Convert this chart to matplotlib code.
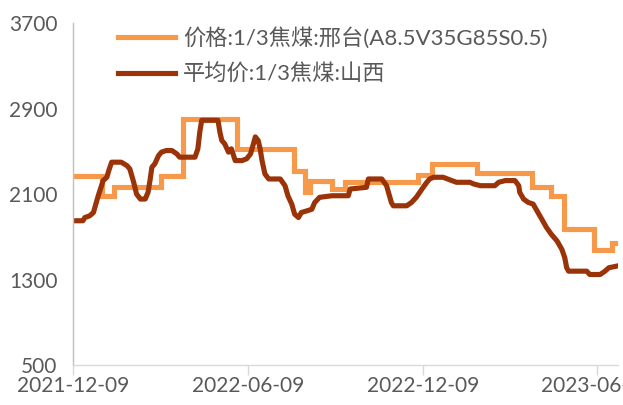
import matplotlib
matplotlib.use("Agg")
import matplotlib.pyplot as plt
import matplotlib.dates as mdates
import numpy as np

plt.rcParams['font.family'] = ['Lato', 'Noto Sans CJK SC', 'DejaVu Sans']

start = np.datetime64('2021-12-09')

# 价格:1/3焦煤:邢台 (step series), days after 2021-12-09
orange_days = [0, 30, 42, 92, 115, 171, 230, 242, 247, 270, 284, 360, 374,
               421, 479, 499, 512, 544, 562, 568]
orange_vals = [2270, 2085, 2165, 2270, 2805, 2525, 2320, 2115, 2225, 2150,
               2210, 2275, 2380, 2295, 2165, 2085, 1770, 1580, 1645, 1645]

# 平均价:1/3焦煤:山西
dark_days = [0, 10, 12, 17, 21, 23, 26, 30, 31, 35, 37, 40, 50, 56, 59, 63,
             66, 70, 75, 78, 80, 82, 85, 89, 92, 97, 103, 108, 111, 127, 130,
             132, 134, 151, 153, 155, 158, 162, 165, 169, 176, 181, 185, 188,
             190, 193, 195, 197, 200, 204, 216, 221, 224, 228, 231, 235, 238,
             244, 249, 252, 257, 270, 287, 289, 306, 308, 322, 327, 332, 334,
             348, 353, 358, 364, 369, 372, 376, 386, 395, 400, 414, 418, 425,
             440, 444, 451, 461, 465, 466, 470, 475, 480, 484, 489, 494, 499,
             505, 510, 513, 515, 517, 536, 539, 550, 555, 559, 567]
dark_vals = [1850, 1850, 1880, 1896, 1927, 1990, 2084, 2194, 2225, 2257, 2319,
             2398, 2398, 2366, 2335, 2210, 2100, 2053, 2053, 2116, 2225, 2351,
             2382, 2460, 2492, 2507, 2507, 2476, 2445, 2445, 2523, 2680, 2790,
             2790, 2680, 2601, 2570, 2492, 2523, 2413, 2413, 2430, 2476, 2570,
             2635, 2601, 2523, 2413, 2288, 2241, 2241, 2178, 2084, 2006, 1912,
             1880, 1927, 1943, 1958, 2021, 2069, 2084, 2084, 2147, 2163, 2241,
             2241, 2178, 2021, 1990, 1990, 2021, 2069, 2147, 2210, 2241, 2257,
             2257, 2226, 2210, 2210, 2194, 2178, 2178, 2210, 2226, 2226, 2178,
             2116, 2053, 2021, 2006, 1943, 1865, 1786, 1723, 1660, 1582, 1504,
             1410, 1378, 1378, 1347, 1347, 1378, 1410, 1425]

label_orange = "价格:1/3焦煤:邢台(A8.5V35G85S0.5)"
label_dark = "平均价:1/3焦煤:山西"

x_ticks = ['2021-12-09', '2022-06-09', '2022-12-09', '2023-06-09']
y_ticks = [500, 1300, 2100, 2900, 3700]

orange_dates = start + np.array(orange_days).astype('timedelta64[D]')
dark_dates = start + np.array(dark_days).astype('timedelta64[D]')

fig = plt.figure(figsize=(6.23, 4.05), dpi=100)
ax = fig.add_axes([0.1177, 0.0988, 0.8743, 0.8442])

ax.plot(orange_dates, orange_vals, color='#F7994A', lw=3.7,
        drawstyle='steps-post', label=label_orange, solid_joinstyle='miter')
ax.plot(dark_dates, dark_vals, color='#9A3408', lw=3.7,
        label=label_dark, solid_joinstyle='round')

x0 = mdates.date2num(start)
ax.set_xlim(x0, x0 + 568.6)
ax.set_ylim(500, 3700)

ax.set_xticks([np.datetime64(t) for t in x_ticks])
ax.set_xticklabels(x_ticks)
ax.set_yticks(y_ticks)
ax.set_yticklabels([str(v) for v in y_ticks])

for s in ['top', 'right']:
    ax.spines[s].set_visible(False)
ax.spines['left'].set_color('#bfbfbf')
ax.spines['bottom'].set_color('#d9d9d9')
ax.spines['left'].set_linewidth(1.0)
ax.spines['bottom'].set_linewidth(1.0)

ax.tick_params(axis='y', length=0, pad=11.5, labelsize=15, labelcolor='#595959')
ax.tick_params(axis='x', length=7, width=1.0, color='#d9d9d9', pad=1,
               labelsize=15, labelcolor='#595959')

# legend sits inside the plot, top left
leg = ax.legend(loc='upper left', bbox_to_anchor=(0.1894, 0.933),
                bbox_transform=fig.transFigure, frameon=False, fontsize=16,
                handlelength=2.55, handletextpad=0.36, labelspacing=0.66,
                borderpad=0, borderaxespad=0)
for t in leg.get_texts():
    t.set_color('#595959')

fig.savefig("out.png", dpi=100)
